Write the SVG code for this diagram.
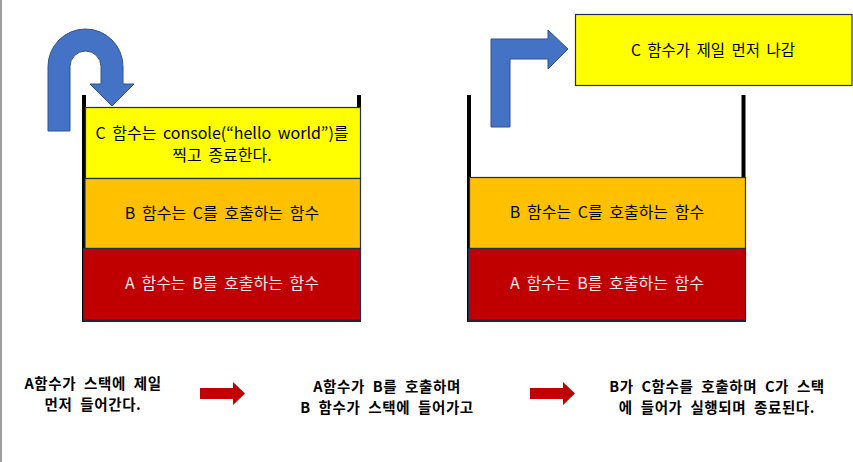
<svg xmlns="http://www.w3.org/2000/svg" width="853" height="462" viewBox="0 0 853 462">
<style>
  .box { stroke: #1f2f4f; stroke-width: 1.2; }
  .y { fill: #ffff00; }
  .o { fill: #ffc000; }
  .r { fill: #c00000; }
  .wall { stroke: #000; stroke-width: 4; fill: none; }
  .t { font-family: "Noto Sans CJK KR", "Noto Sans", sans-serif; font-size: 16px; word-spacing: 3px; text-anchor: middle; fill: #000; }
  .tw { fill: #ffe8e8; }
  .cap { font-family: "Noto Sans CJK KR", "Noto Sans", sans-serif; font-size: 14.5px; word-spacing: 4px; letter-spacing: 0.6px; font-weight: bold; text-anchor: middle; fill: #000; }
  .blue { fill: #4472c4; stroke: #2f528f; stroke-width: 1; }
  .red { fill: #c00000; }
</style>
<rect x="0" y="0" width="853" height="462" fill="#fff"/>
<line x1="1" y1="0" x2="1" y2="462" stroke="#7f7f7f" stroke-width="1.5"/>

<g id="stack-left">
  <line class="wall" x1="84" y1="95" x2="84" y2="321"/>
  <line class="wall" x1="359" y1="95" x2="359" y2="321"/>
  <line x1="82" y1="321" x2="361" y2="321" stroke="#222" stroke-width="2"/>
  <g id="left-c">
    <rect class="box y" x="85.5" y="107.5" width="275" height="71"/>
    <text class="t" x="222" y="139">C 함수는 console(“hello world”)를</text>
    <text class="t" x="222" y="161">찍고 종료한다.</text>
  </g>
  <g id="left-b">
    <rect class="box o" x="85" y="178.5" width="275.5" height="70"/>
    <text class="t" x="222" y="219">B 함수는 C를 호출하는 함수</text>
  </g>
  <g id="left-a">
    <rect class="box r" x="83.5" y="248.5" width="277" height="71.5"/>
    <text class="t tw" x="222" y="289">A 함수는 B를 호출하는 함수</text>
  </g>
</g>

<g id="stack-right">
  <line class="wall" x1="469" y1="95" x2="469" y2="321"/>
  <line class="wall" x1="743.5" y1="95" x2="743.5" y2="321"/>
  <line x1="467" y1="321" x2="746" y2="321" stroke="#222" stroke-width="2"/>
  <g id="right-b">
    <rect class="box o" x="469.5" y="177.5" width="276" height="71"/>
    <text class="t" x="607" y="218">B 함수는 C를 호출하는 함수</text>
  </g>
  <g id="right-a">
    <rect class="box r" x="468.5" y="248.5" width="277" height="71.5"/>
    <text class="t tw" x="607" y="289">A 함수는 B를 호출하는 함수</text>
  </g>
</g>

<g id="popped-c">
  <rect class="box y" x="575.5" y="14.5" width="276.5" height="71"/>
  <text class="t" x="713" y="56" style="font-size:15.5px">C 함수가 제일 먼저 나감</text>
</g>

<g id="connectors">
  <path class="blue" d="M48,131 L48,66.5 A37.5,37.5 0 0 1 123,66.5 L123,84 L134,84 L112,106 L90,84 L101,84 L101,66.5 A15.5,15.5 0 0 0 70,66.5 L70,131 Z"/>
  <path class="blue" d="M491,127 L491,39 L548,39 L548,30 L568,49 L548,69 L548,59 L510,59 L510,127 Z"/>
  <path class="red" d="M200,388 L233,388 L233,382 L245,393.5 L233,405 L233,399 L200,399 Z"/>
  <path class="red" d="M530,388 L563,388 L563,382 L575,393.5 L563,405 L563,399 L530,399 Z"/>
</g>

<g id="caption-1">
  <text class="cap" x="93" y="389">A함수가 스택에 제일</text>
  <text class="cap" x="93" y="410">먼저 들어간다.</text>
</g>
<g id="caption-2">
  <text class="cap" x="387" y="392">A함수가 B를 호출하며</text>
  <text class="cap" x="387" y="413">B 함수가 스택에 들어가고</text>
</g>
<g id="caption-3">
  <text class="cap" x="717" y="392">B가 C함수를 호출하며 C가 스택</text>
  <text class="cap" x="717" y="413">에 들어가 실행되며 종료된다.</text>
</g>
</svg>
